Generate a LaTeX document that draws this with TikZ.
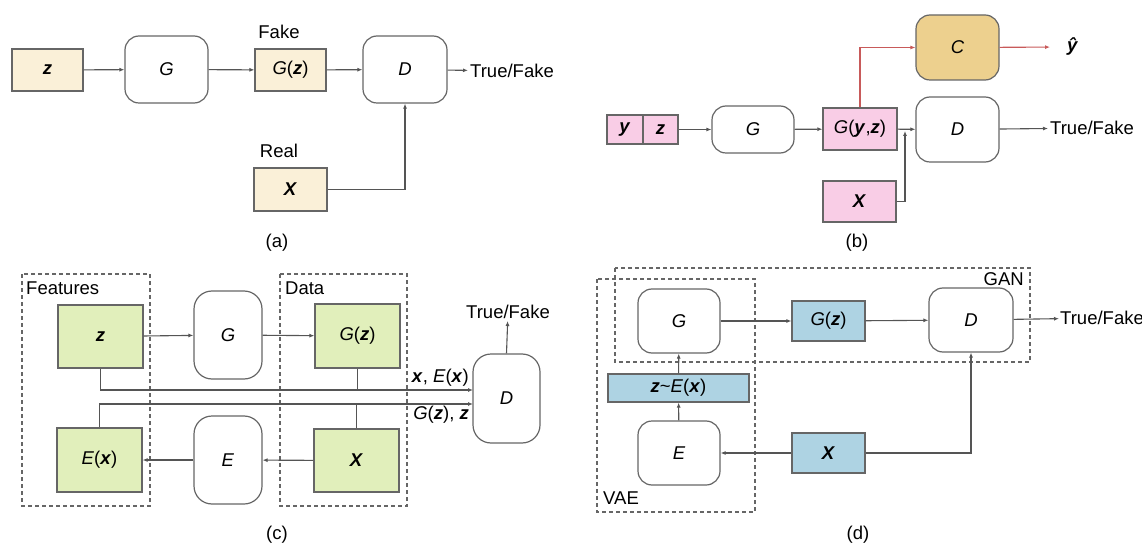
\documentclass[tikz,border=0pt]{standalone}
\usepackage{fontspec}
\setmainfont{Liberation Sans}
\usepackage{xcolor}
\usepackage{tikz}
\usetikzlibrary{arrows.meta}

\definecolor{creamfill}{HTML}{FAF0D8}
\definecolor{pinkfill}{HTML}{F9CDE6}
\definecolor{tanfill}{HTML}{EDD08E}
\definecolor{greenfill}{HTML}{E1EFBB}
\definecolor{bluefill}{HTML}{AED3E3}
\definecolor{edgegray}{HTML}{666666}
\definecolor{wiregray}{HTML}{555555}
\definecolor{wirered}{HTML}{C85A5A}

\newcommand{\bv}[1]{\textbf{\textit{#1}}}

\begin{document}
\begin{tikzpicture}[x=1pt, y=-1pt, font=\fontsize{18.5}{21}\selectfont,
    box/.style={draw=edgegray, line width=1.2pt, inner sep=0pt},
    net/.style={box, fill=white, rounded corners=14pt},
    wire/.style={draw=wiregray, line width=1.1pt, -{Latex[length=5pt,width=4pt]}},
    plain/.style={draw=wiregray, line width=1.1pt},
    frame/.style={draw=edgegray, line width=1.2pt, dash pattern=on 4pt off 3pt}]
  \useasboundingbox (0,0) rectangle (1142,545);

  % (a) plain GAN
  \node[box, fill=creamfill, minimum width=71, minimum height=42] (za) at (47.5,70) {\bv{z}};
  \node[net, minimum width=83, minimum height=67] (Ga) at (166.5,69.5) {\textit{G}};
  \node[box, fill=creamfill, minimum width=71, minimum height=42] (Gza) at (290.5,70) {\textit{G}(\bv{z})};
  \node[net, minimum width=84, minimum height=67] (Da) at (405,69.5) {\textit{D}};
  \node[box, fill=creamfill, minimum width=73, minimum height=43] (Xa) at (290.5,189.5) {\bv{X}};
  \node[inner sep=2pt, anchor=west] (tfa) at (468,71) {True/Fake};
  \node (fakea) at (279,32) {Fake};
  \node (reala) at (279,151) {Real};

  \draw[wire] (za) -- (Ga);
  \draw[wire] (Ga) -- (Gza);
  \draw[wire] (Gza) -- (Da);
  \draw[wire] (Da) -- (tfa);
  \draw[wire] (Xa.east) -| (Da.south);

  % (b) conditional GAN with classifier
  \node[box, fill=pinkfill, minimum width=36, minimum height=29] (yb) at (625,129.5) {\bv{y}};
  \node[box, fill=pinkfill, minimum width=35, minimum height=29] (zb) at (660.5,129.5) {\bv{z}};
  \node[net, minimum width=82, minimum height=47] (Gb) at (753,129.5) {\textit{G}};
  \node[box, fill=pinkfill, minimum width=74, minimum height=42] (Gyzb) at (860,129) {\textit{G}(\bv{y},\bv{z})};
  \node[net, fill=tanfill, minimum width=83, minimum height=65] (Cb) at (957.5,47.5) {\textit{C}};
  \node[net, minimum width=83, minimum height=65] (Db) at (957.5,129.5) {\textit{D}};
  \node[box, fill=pinkfill, minimum width=73, minimum height=41] (Xb) at (859.5,201.5) {\bv{X}};
  \node[inner sep=2pt, anchor=west] (tfb) at (1048,128) {True/Fake};
  \node[inner sep=0pt, inner xsep=17pt, anchor=west] (yhat) at (1050,47) {\bv{ŷ}};
  \coordinate (jb) at (905,131);

  \draw[wire] (zb) -- (Gb);
  \draw[wire] (Gb) -- (Gyzb);
  \draw[wire] (Gyzb) -- (Db);
  \draw[wire] (Db) -- (tfb);
  \draw[wire] (Xb.east) -| (jb);
  \draw[wire, draw=wirered] (Gyzb.north) |- (Cb.west);
  \draw[wire, draw=wirered] (Cb) -- (yhat);

  % (c) BiGAN
  \draw[frame] (22,274) rectangle (150,506);
  \draw[frame] (280,274) rectangle (407,506);
  \node[anchor=west, inner sep=2pt] (featc) at (24,288) {Features};
  \node[anchor=west, inner sep=2pt] (datac) at (283,288) {Data};

  \node[box, fill=greenfill, minimum width=85, minimum height=63] (zc) at (100.5,336.5) {\bv{z}};
  \node[net, rounded corners=18pt, minimum width=68, minimum height=88] (Gc) at (228,335) {\textit{G}};
  \node[box, fill=greenfill, minimum width=85, minimum height=64] (Gzc) at (357.5,336) {\textit{G}(\bv{z})};
  \node[box, fill=greenfill, minimum width=85, minimum height=64] (Exc) at (99.5,460) {\textit{E}(\bv{x})};
  \node[net, rounded corners=18pt, minimum width=68, minimum height=88] (Ec) at (228,460) {\textit{E}};
  \node[box, fill=greenfill, minimum width=85, minimum height=63] (Xc) at (356.5,460.5) {\bv{X}};
  \node[net, rounded corners=18pt, minimum width=67, minimum height=89] (Dc) at (506.5,398.5) {\textit{D}};
  \node[inner sep=2pt] (tfc) at (508,312) {True/Fake};
  \coordinate (inc1) at (473,390);
  \coordinate (inc2) at (473,404);
  \node[anchor=east, inner sep=2pt] (labc1) at (471,378) {\bv{x}, \textit{E}(\bv{x})};
  \node[anchor=east, inner sep=2pt] (labc2) at (471,415) {\textit{G}(\bv{z}), \bv{z}};

  \draw[wire] (zc) -- (Gc);
  \draw[wire] (Gc) -- (Gzc);
  \draw[wire] (Xc) -- (Ec);
  \draw[wire] (Ec) -- (Exc);
  \draw[wire] (zc.south) |- (inc1);
  \draw[plain] (Gzc.south) -- (Gzc.south |- inc1);
  \draw[wire] (Exc.north) |- (inc2);
  \draw[plain] (Xc.north) -- (Xc.north |- inc2);
  \draw[wire] (Dc.north) -- (tfc);

  % (d) VAE-GAN
  \draw[frame] (615,268) rectangle (1030,362);
  \draw[frame] (597,279) rectangle (755,512);
  \node[anchor=east, inner sep=2pt] (gand) at (1026,279) {GAN};
  \node[anchor=west, inner sep=2pt] (vaed) at (601,498) {VAE};

  \node[net, minimum width=82, minimum height=64] (Gd) at (679,321) {\textit{G}};
  \node[box, fill=bluefill, minimum width=73, minimum height=40] (Gzd) at (828.5,321) {\textit{G}(\bv{z})};
  \node[net, minimum width=84, minimum height=64] (Dd) at (971,320) {\textit{D}};
  \node[box, fill=bluefill, minimum width=141, minimum height=28] (zEd) at (678.5,388) {\bv{z}\textasciitilde\textit{E}(\bv{x})};
  \node[net, minimum width=82, minimum height=64] (Ed) at (679,453) {\textit{E}};
  \node[box, fill=bluefill, minimum width=73, minimum height=40] (Xd) at (828.5,453) {\bv{X}};
  \node[inner sep=1pt, anchor=west] (tfd) at (1059,318) {True/Fake};

  \draw[wire] (Gd) -- (Gzd);
  \draw[wire] (Gzd) -- (Dd);
  \draw[wire] (Dd) -- (tfd);
  \draw[wire] (Xd) -- (Ed);
  \draw[wire] (Ed) -- (zEd);
  \draw[wire] (zEd) -- (Gd);
  \draw[wire] (Xd.east) -| (Dd.south);

  % captions
  \foreach \x\y\l in {277/243/a, 857/243/b, 277/535/c, 858/535/d}{%
    \node (cap\l) at (\x,\y) {(\l)};
  }
\end{tikzpicture}
\end{document}
